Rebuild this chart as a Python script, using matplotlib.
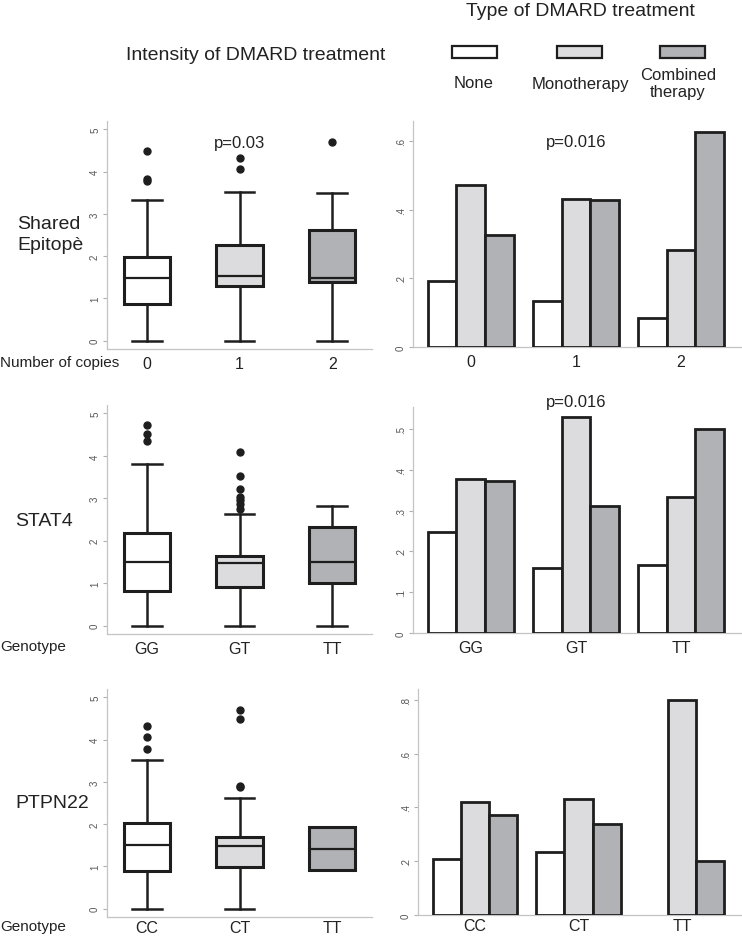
import numpy as np
import matplotlib
matplotlib.use("Agg")
import matplotlib.pyplot as plt
from matplotlib.patches import Rectangle

plt.rcParams['font.family'] = ['Liberation Sans', 'DejaVu Sans']

W, H = 742, 937

# ---- data ----
groups = ["None", "Monotherapy", "Combined\ntherapy"]
colors = ["#ffffff", "#dcdcde", "#b1b2b6"]
edge = "#1e1e1e"

se_labels = ["0", "1", "2"]
stat4_labels = ["GG", "GT", "TT"]
ptpn22_labels = ["CC", "CT", "TT"]

# box summaries: q1, median, q3, whisker low, whisker high, outliers
se_q1 = [0.87, 1.29, 1.38]
se_med = [1.49, 1.52, 1.49]
se_q3 = [1.97, 2.27, 2.63]
se_wlo = [0.0, 0.0, 0.0]
se_whi = [3.34, 3.52, 3.50]
se_fliers = [[4.50, 3.82, 3.78], [4.33, 4.07], [4.70]]

stat4_q1 = [0.81, 0.90, 1.00]
stat4_med = [1.50, 1.48, 1.50]
stat4_q3 = [2.19, 1.64, 2.32]
stat4_wlo = [0.0, 0.0, 0.0]
stat4_whi = [3.82, 2.63, 2.83]
stat4_fliers = [[4.72, 4.51, 4.34], [4.08, 3.52, 3.22, 3.02, 2.95, 2.87, 2.75], []]

ptpn22_q1 = [0.88, 0.99, 0.91]
ptpn22_med = [1.50, 1.49, 1.41]
ptpn22_q3 = [2.02, 1.70, 1.92]
ptpn22_wlo = [0.0, 0.0, 0.91]
ptpn22_whi = [3.52, 2.61, 1.92]
ptpn22_fliers = [[4.33, 4.07, 3.79], [4.70, 4.49, 2.91, 2.88], []]

# proportions by treatment type (None, Monotherapy, Combined)
se_none = [0.193, 0.134, 0.085]
se_mono = [0.473, 0.433, 0.284]
se_comb = [0.328, 0.428, 0.627]

stat4_none = [0.248, 0.159, 0.167]
stat4_mono = [0.378, 0.529, 0.333]
stat4_comb = [0.373, 0.311, 0.499]

ptpn22_none = [0.208, 0.235, 0.0]
ptpn22_mono = [0.421, 0.430, 0.800]
ptpn22_comb = [0.372, 0.339, 0.200]


def px_axes(fig, x0, y0, x1, y1):
    return fig.add_axes([x0 / W, 1 - y1 / H, (x1 - x0) / W, (y1 - y0) / H])


def style_axes(ax, xpad=5):
    for s in ["top", "right"]:
        ax.spines[s].set_visible(False)
    for s in ["left", "bottom"]:
        ax.spines[s].set_color("#c4c4c4")
        ax.spines[s].set_linewidth(0.9)
    ax.tick_params(axis="y", length=3, width=0.8, color="#b0b0b0",
                   labelsize=7, labelcolor="#555555", pad=2)
    for lab in ax.get_yticklabels():
        lab.set_rotation(90)
        lab.set_va("center")
    ax.tick_params(axis="x", length=0, labelsize=11.5, pad=xpad, labelcolor="#222222")


def box_panel(ax, labels, q1, med, q3, wlo, whi, fliers, xpad=5):
    stats = []
    for i in range(len(labels)):
        stats.append(dict(q1=q1[i], med=med[i], q3=q3[i], whislo=wlo[i],
                          whishi=whi[i], fliers=fliers[i], label=labels[i]))
    bp = ax.bxp(stats, positions=range(3), widths=0.5, patch_artist=True,
                capwidths=0.32,
                boxprops=dict(edgecolor=edge, linewidth=2.2),
                medianprops=dict(color=edge, linewidth=1.6),
                whiskerprops=dict(color=edge, linewidth=1.8),
                capprops=dict(color=edge, linewidth=1.8),
                flierprops=dict(marker="o", markerfacecolor=edge,
                                markeredgecolor=edge, markersize=5))
    for patch, c in zip(bp["boxes"], colors):
        patch.set_facecolor(c)
    ax.set_xlim(-0.43, 2.43)
    ax.set_ylim(-0.2, 5.2)
    ax.set_yticks([0, 1, 2, 3, 4, 5])
    ax.set_yticklabels(["0", "1", "2", "3", "4", "5"])
    ax.set_xticks(range(3))
    ax.set_xticklabels(labels)
    style_axes(ax, xpad)


def bar_panel(ax, labels, none, mono, comb, ymax, yticks, yticklabels, xpad=5):
    x = np.arange(3)
    w = 0.273
    for off, vals, c in zip([-w, 0, w], [none, mono, comb], colors):
        for xi, v in zip(x, vals):
            if v > 0:
                ax.bar(xi + off, v, width=w, color=c, edgecolor=edge,
                       linewidth=2.0, zorder=3)
    ax.set_xlim(-0.55, 2.58)
    ax.set_ylim(0, ymax)
    ax.set_yticks(yticks)
    ax.set_yticklabels(yticklabels)
    ax.set_xticks(x)
    ax.set_xticklabels(labels)
    style_axes(ax, xpad)


fig = plt.figure(figsize=(W / 100, H / 100), dpi=100)

# left column: intensity of treatment
ax1 = px_axes(fig, 107, 122, 372, 350)
box_panel(ax1, se_labels, se_q1, se_med, se_q3, se_wlo, se_whi, se_fliers)
ax1.text(1, 4.7, "p=0.03", ha="center", va="center", fontsize=12, color="#222222")

ax2 = px_axes(fig, 107, 406, 372, 635)
box_panel(ax2, stat4_labels, stat4_q1, stat4_med, stat4_q3, stat4_wlo, stat4_whi, stat4_fliers)

ax3 = px_axes(fig, 107, 690, 372, 918)
box_panel(ax3, ptpn22_labels, ptpn22_q1, ptpn22_med, ptpn22_q3, ptpn22_wlo, ptpn22_whi,
          ptpn22_fliers, xpad=2)

# right column: type of treatment
bx1 = px_axes(fig, 413, 122, 742, 348)
bar_panel(bx1, se_labels, se_none, se_mono, se_comb, 0.659,
          [0, 0.2, 0.4, 0.6], ["0", ".2", ".4", ".6"])
bx1.text(1, 0.6, "p=0.016", ha="center", va="center", fontsize=12, color="#222222")

bx2 = px_axes(fig, 413, 408, 742, 634)
bar_panel(bx2, stat4_labels, stat4_none, stat4_mono, stat4_comb, 0.554,
          [0, 0.1, 0.2, 0.3, 0.4, 0.5], ["0", ".1", ".2", ".3", ".4", ".5"])
bx2.text(1, 0.568, "p=0.016", ha="center", va="center", fontsize=12,
         color="#222222", clip_on=False)

bx3 = px_axes(fig, 418, 690, 742, 916)
bar_panel(bx3, ptpn22_labels, ptpn22_none, ptpn22_mono, ptpn22_comb, 0.84,
          [0, 0.2, 0.4, 0.6, 0.8], ["0", ".2", ".4", ".6", ".8"], xpad=2)

# row and axis labels
def ftext(x, y, s, **kw):
    kw.setdefault("color", "#222222")
    fig.text(x / W, 1 - y / H, s, **kw)

ftext(17, 235, "Shared\nEpitopè", fontsize=14, ha="left", va="center", linespacing=1.25)
ftext(15, 522, "STAT4", fontsize=14, ha="left", va="center")
ftext(15, 804, "PTPN22", fontsize=14, ha="left", va="center")
ftext(0, 363, "Number of copies", fontsize=11, ha="left", va="center")
ftext(0, 647, "Genotype", fontsize=11, ha="left", va="center")
ftext(0, 927, "Genotype", fontsize=11, ha="left", va="center")

ftext(256, 55, "Intensity of DMARD treatment", fontsize=14, ha="center", va="center")
ftext(580, 11, "Type of DMARD treatment", fontsize=14, ha="center", va="center")

# legend
leg_x = [452, 557, 660]
leg_lab_x = [474, 580, 678]
for lx, tx, c, g in zip(leg_x, leg_lab_x, colors, groups):
    fig.patches.append(Rectangle((lx / W, 1 - 59 / H), 45 / W, 12 / H,
                                 transform=fig.transFigure, facecolor=c,
                                 edgecolor=edge, linewidth=1.6))
    ftext(tx, 84, g, fontsize=12, ha="center", va="center", linespacing=1.1)

fig.savefig("out.png", dpi=100)
